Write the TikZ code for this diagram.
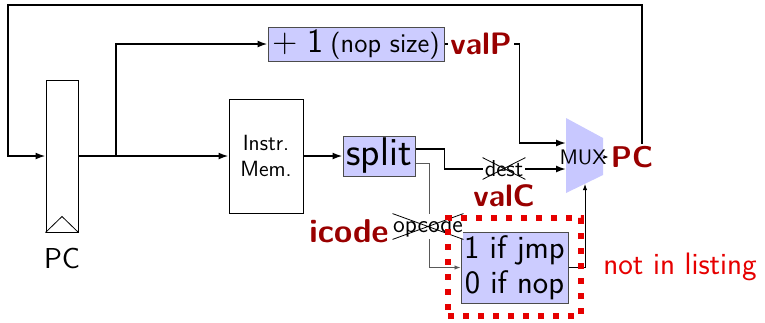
\documentclass[tikz,border=0pt]{standalone}
\usepackage{fontspec}
\usetikzlibrary{arrows.meta}
\renewcommand{\familydefault}{\sfdefault}
\definecolor{boxblue}{RGB}{204,204,255}
\definecolor{muxblue}{RGB}{200,200,255}
\definecolor{valred}{RGB}{153,0,0}
\definecolor{notered}{RGB}{230,0,0}
\tikzset{
  wire/.style={line width=0.85pt},
  arr/.style={wire,-{Latex[length=5pt,width=3.5pt]}},
  thinarr/.style={line width=0.45pt,-{Latex[length=3pt,width=2.2pt]}},
  block/.style={draw=black!70, line width=0.5pt, fill=boxblue, inner sep=0pt, align=center},
  plainbox/.style={draw, line width=0.5pt, fill=white, inner sep=0pt, align=center},
  sig/.style={text=valred, inner sep=1pt, fill=white},
  strike/.style={fill=white, inner sep=0pt},
}
\begin{document}
\begin{tikzpicture}[x=0.5pt,y=-0.5pt]
  \useasboundingbox (0,0) rectangle (765,322);

  % register, memory and logic blocks
  \node[plainbox, minimum width=16pt, minimum height=76pt] (pcreg) at (62,156) {};
  \draw[line width=0.4pt] (pcreg.south west) -- ([yshift=8pt]pcreg.south) -- (pcreg.south east);
  \node[font=\fontsize{14.4}{17}\selectfont] (pclabel) at (62,259) {PC};

  \node[plainbox, minimum width=37pt, minimum height=57pt,
        font=\fontsize{11}{13}\selectfont] (imem) at (266,156) {Instr.\\ Mem.};
  \node[block, minimum width=88pt, minimum height=17pt] (inc) at (356,44)
    {{\fontsize{17}{20}\selectfont$+$ 1} {\fontsize{13.5}{15}\selectfont(nop size)}};
  \node[block, minimum width=36pt, minimum height=20pt,
        font=\fontsize{20}{22}\selectfont] (split) at (379,156) {split};
  \node[block, minimum width=53.5pt, minimum height=35.5pt,
        font=\fontsize{16.3}{17.5}\selectfont] (sel) at (514.5,267.5) {1 if jmp\\ 0 if nop};

  % multiplexer
  \fill[muxblue] (566,118) -- (603,138) -- (603,175) -- (566,193) -- cycle;
  \node[font=\fontsize{10.5}{12}\selectfont] (mux) at (583,157) {MUX};
  \coordinate (muxin1) at (566,143);
  \coordinate (muxin2) at (566,169);
  \coordinate (muxsel) at (585,184);
  \coordinate (muxout) at (603,157);
  \node[text=valred, inner sep=1pt, font=\fontsize{15}{18}\selectfont\bfseries] (pcred) at (632,157) {PC};

  % feedback corners
  \coordinate (fbtop) at (642,5);
  \coordinate (fbleft) at (8,5);
  \coordinate (br) at (116,156);

  % wires
  \draw[arr] (pcred.north -| fbtop) -- (fbtop) -- (fbleft) |- (pcreg.west);
  \draw[arr] (pcreg.east) -- (imem.west);
  \draw[arr] (br) |- (inc.west);
  \draw[arr] (imem.east) -- (split.west);
  \draw[arr] (inc.east) -- ++(75,0) |- (muxin1);
  \draw[arr] ([yshift=3.5pt]split.east) -- ++(29,0) |- (muxin2);
  \draw[thinarr, draw=black!65] ([yshift=-3.5pt]split.east) -- ++(14,0) |- (sel.west);
  \draw[thinarr] (sel.east) -| (muxsel);
  \draw[line width=0.4pt,-{Latex[length=2.5pt,width=2pt]}] (muxout) -- (pcred.west);

  % signal names
  \node[sig, font=\fontsize{15.5}{18}\selectfont\bfseries] (valp) at (481,44) {valP};
  \node[strike, minimum width=21pt, minimum height=10.5pt,
        font=\fontsize{11.5}{13}\selectfont] (dest) at (504,168.5) {dest};
  \draw[line width=0.4pt] (dest.north west) -- (dest.south east)
    (dest.south west) -- (dest.north east);
  \node[text=valred, inner sep=1pt, font=\fontsize{15.5}{18}\selectfont\bfseries] (valc) at (504,196) {valC};
  \node[strike, minimum width=35pt, minimum height=12.5pt,
        font=\fontsize{12}{14}\selectfont] (opcode) at (428,226.5) {opcode};
  \draw[line width=0.4pt] (opcode.north west) -- (opcode.south east)
    (opcode.south west) -- (opcode.north east);
  \node[text=valred, inner sep=1pt, font=\fontsize{16.5}{19}\selectfont\bfseries] (icode) at (349,231) {icode};

  % highlight frame
  \node[draw=notered, line width=3pt, dash pattern=on 3pt off 4.5pt,
        minimum width=66.5pt, minimum height=49pt, inner sep=0pt] (frame) at (514.5,267) {};
  \node[text=notered, font=\fontsize{15.5}{18}\selectfont] (note) at (680,267) {not in listing};
\end{tikzpicture}
\end{document}
